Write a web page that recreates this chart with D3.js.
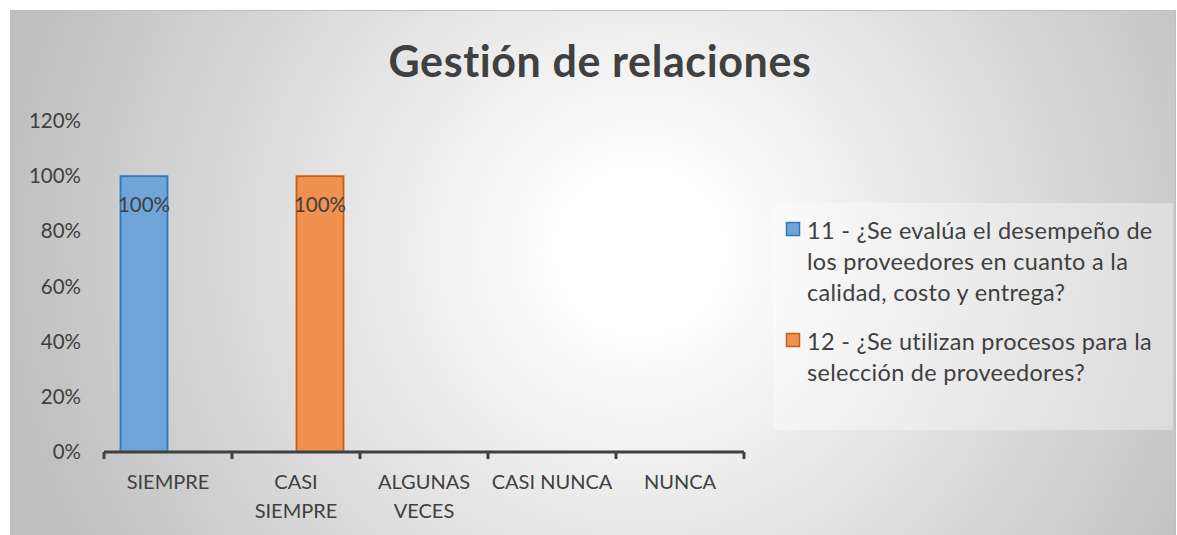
<!DOCTYPE html>
<html>
<head>
<meta charset="utf-8">
<script src="https://cdn.jsdelivr.net/npm/d3@7"></script>
<style>
  body { margin: 0; background: #fff; }
  text { font-family: Lato, "Open Sans", sans-serif; fill: #404040; }
</style>
</head>
<body>
<div class="chart"></div>
<script>
// Data.
const categories = ['SIEMPRE', 'CASI SIEMPRE', 'ALGUNAS VECES', 'CASI NUNCA', 'NUNCA'];
const seriesNames = [
    '11 - ¿Se evalúa el desempeño de los proveedores en cuanto a la calidad, costo y entrega?',
    '12 - ¿Se utilizan procesos para la selección de proveedores?'
];
const series11 = [1, 0, 0, 0, 0];
const series12 = [0, 1, 0, 0, 0];
const yTicks = [0, 0.2, 0.4, 0.6, 0.8, 1, 1.2];
const legendLines = [
    ['11 - ¿Se evalúa el desempeño de', 'los proveedores en cuanto a la', 'calidad, costo y entrega?'],
    ['12 - ¿Se utilizan procesos para la', 'selección de proveedores?']
];
const catLines = [['SIEMPRE'], ['CASI', 'SIEMPRE'], ['ALGUNAS', 'VECES'], ['CASI NUNCA'], ['NUNCA']];

const fills = ['#6fa5d8', '#f0914f'];
const strokes = ['#3577bb', '#c55e1a'];

const width = 1177, height = 535;
const plot = {left: 104, right: 744, top: 121, bottom: 452};

const svg = d3.select('.chart').append('svg')
    .attr('width', width)
    .attr('height', height);

// Background gradient.
const defs = svg.append('defs');
const grad = defs.append('radialGradient')
    .attr('id', 'bg')
    .attr('gradientUnits', 'userSpaceOnUse')
    .attr('cx', 640).attr('cy', 250).attr('r', 640);
grad.append('stop').attr('offset', '0%').attr('stop-color', '#ffffff');
grad.append('stop').attr('offset', '12%').attr('stop-color', '#ffffff');
grad.append('stop').attr('offset', '100%').attr('stop-color', '#bfbfbf');

svg.append('rect')
    .attr('x', 10.5).attr('y', 10.5)
    .attr('width', width - 12).attr('height', height)
    .attr('fill', 'url(#bg)')
    .attr('stroke', '#bfbfbf');

// Title.
svg.append('text')
    .attr('x', 600).attr('y', 77)
    .attr('text-anchor', 'middle')
    .attr('font-size', 43)
    .attr('font-weight', 'bold')
    .attr('letter-spacing', 0.6)
    .text('Gestión de relaciones');

// Scales.
const x = d3.scaleBand()
    .domain(categories)
    .range([plot.left, plot.right]);
const xSub = d3.scaleBand()
    .domain([0, 1])
    .range([0, x.bandwidth()])
    .paddingOuter(1 / 3);
const y = d3.scaleLinear()
    .domain([0, 1.2])
    .range([plot.bottom, plot.top]);

// Y axis labels (no line).
const yAxis = svg.append('g')
    .attr('transform', `translate(${plot.left},0)`)
    .call(d3.axisLeft(y).tickValues(yTicks).tickFormat(d3.format('.0%')).tickSize(0).tickPadding(23));
yAxis.select('.domain').remove();
yAxis.selectAll('text').attr('font-size', 20.5).style('font-family', 'Lato, sans-serif').attr('fill', '#404040');

// Bars.
const allSeries = [series11, series12];
allSeries.forEach((vals, si) => {
    const g = svg.append('g');
    const bars = categories.map((c, i) => ({c, v: vals[i]})).filter(d => d.v > 0);
    g.selectAll('rect')
        .data(bars)
        .join('rect')
        .attr('x', d => x(d.c) + xSub(si) + 0.5)
        .attr('y', d => y(d.v))
        .attr('width', xSub.bandwidth() - 1)
        .attr('height', d => y(0) - y(d.v))
        .attr('fill', fills[si])
        .attr('stroke', strokes[si])
        .attr('stroke-width', 1.8);
    g.selectAll('text')
        .data(bars)
        .join('text')
        .attr('x', d => x(d.c) + xSub(si) + xSub.bandwidth() / 2)
        .attr('y', d => y(d.v) + 36)
        .attr('text-anchor', 'middle')
        .attr('font-size', 20.5)
        .text(d => d3.format('.0%')(d.v));
});

// X axis.
const xAxis = svg.append('g')
    .attr('transform', `translate(0,${plot.bottom})`);
xAxis.append('line')
    .attr('x1', plot.left).attr('x2', plot.right)
    .attr('stroke', '#404040').attr('stroke-width', 3);
xAxis.selectAll('.tick')
    .data(categories.concat(['end']))
    .join('line')
    .attr('x1', (d, i) => i < categories.length ? x(d) : plot.right)
    .attr('x2', (d, i) => i < categories.length ? x(d) : plot.right)
    .attr('y1', 0).attr('y2', 7)
    .attr('stroke', '#404040').attr('stroke-width', 3);
xAxis.selectAll('.cat')
    .data(categories)
    .join('text')
    .attr('text-anchor', 'middle')
    .attr('font-size', 20)
    .attr('y', 37)
    .each(function(d, i) {
        d3.select(this).selectAll('tspan')
            .data(catLines[i])
            .join('tspan')
            .attr('x', x(d) + x.bandwidth() / 2)
            .attr('dy', (l, j) => j === 0 ? 0 : 29)
            .text(l => l);
    });

// Legend.
const legend = svg.append('g');
legend.append('rect')
    .attr('x', 773).attr('y', 203)
    .attr('width', 400).attr('height', 227)
    .attr('fill', '#ffffff').attr('fill-opacity', 0.35);
let ly = 239;
legendLines.forEach((lines, si) => {
    legend.append('rect')
        .attr('x', 786.5).attr('y', ly - 16.5)
        .attr('width', 13).attr('height', 13)
        .attr('fill', fills[si]).attr('stroke', strokes[si]).attr('stroke-width', 1.5);
    legend.append('text')
        .attr('font-size', 23.5)
        .attr('letter-spacing', 0.3)
        .attr('y', ly)
        .selectAll('tspan')
        .data(lines)
        .join('tspan')
        .attr('x', 807)
        .attr('dy', (l, j) => j === 0 ? 0 : 31)
        .text(l => l);
    ly += lines.length * 31 + 18;
});
</script>
</body>
</html>
